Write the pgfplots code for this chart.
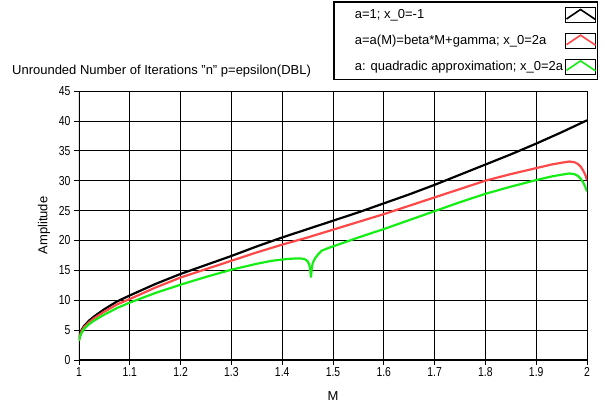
\documentclass[border=0pt]{standalone}
\usepackage{fontspec}
\setmainfont{Liberation Sans}
\newfontfamily\tickfont{Liberation Sans}[FakeStretch=0.8]
\usepackage{pgfplots}
\pgfplotsset{compat=1.18}
\definecolor{lvred}{RGB}{255,72,72}
\definecolor{lvgreen}{RGB}{20,238,20}
\newcommand{\labelfont}{\fontsize{13}{15}\selectfont}
\tikzset{gl/.style={black, line width=0.7pt}}
\begin{document}
\begin{tikzpicture}
\path[use as bounding box] (-79pt,-46pt) rectangle (526pt,360pt);
\begin{axis}[
    at={(0pt,0pt)}, anchor=south west,
    scale only axis,
    width=508pt, height=269pt,
    xmin=1, xmax=2, ymin=0, ymax=45,
    xtick={1,1.1,...,2.01}, ytick={0,5,...,45},
    xtick pos=bottom, ytick pos=left,
    axis line style={black, line width=0.9pt},
    tick align=outside,
    major tick length=5pt,
    tick style={black, line width=0.7pt},
    grid=major,
    grid style={black, line width=0.7pt},
    /pgf/number format/assume math mode=true,
    ticklabel style={font=\tickfont\fontsize{13}{13}\selectfont},
    xticklabel style={yshift=1pt},
    xlabel={M}, ylabel={Amplitude},
    every axis x label/.style={at={(axis description cs:0.5,-0.134)}, anchor=center, font=\labelfont},
    every axis y label/.style={at={(axis description cs:-0.069,0.5)}, rotate=90, anchor=center, font=\labelfont},
    title={Unrounded Number of Iterations "n" p=epsilon(DBL)},
    every axis title/.style={at={(axis description cs:-0.132,1.063)}, anchor=base west, inner sep=0pt, font=\labelfont},
    legend plot pos=right,
    legend cell align=left,
    legend style={at={(axis description cs:1.0217,1.333)}, anchor=north east,
        draw=black, line width=1.4pt, font=\labelfont, row sep=10pt, inner xsep=1pt, inner ysep=5pt},
    legend image code/.code={
        \draw[black, line width=0.7pt, fill=white] (0pt,-7.5pt) rectangle (30pt,7.5pt);
        \draw[#1, line width=1.6pt] (1pt,-4pt) -- (15pt,5.5pt) -- (30pt,-4.5pt);
    },
]
% grid lines
\draw[gl] (axis cs:1.1,0) -- (axis cs:1.1,45);
\draw[gl] (axis cs:1.2,0) -- (axis cs:1.2,45);
\draw[gl] (axis cs:1.3,0) -- (axis cs:1.3,45);
\draw[gl] (axis cs:1.4,0) -- (axis cs:1.4,45);
\draw[gl] (axis cs:1.5,0) -- (axis cs:1.5,45);
\draw[gl] (axis cs:1.6,0) -- (axis cs:1.6,45);
\draw[gl] (axis cs:1.7,0) -- (axis cs:1.7,45);
\draw[gl] (axis cs:1.8,0) -- (axis cs:1.8,45);
\draw[gl] (axis cs:1.9,0) -- (axis cs:1.9,45);
\draw[gl] (axis cs:2,0) -- (axis cs:2,45);
\draw[gl] (axis cs:1,5) -- (axis cs:2,5);
\draw[gl] (axis cs:1,10) -- (axis cs:2,10);
\draw[gl] (axis cs:1,15) -- (axis cs:2,15);
\draw[gl] (axis cs:1,20) -- (axis cs:2,20);
\draw[gl] (axis cs:1,25) -- (axis cs:2,25);
\draw[gl] (axis cs:1,30) -- (axis cs:2,30);
\draw[gl] (axis cs:1,35) -- (axis cs:2,35);
\draw[gl] (axis cs:1,40) -- (axis cs:2,40);
\draw[gl] (axis cs:1,45) -- (axis cs:2,45);
\draw[black, line width=1pt] (axis cs:1,45) -- (axis cs:1,0) -- (axis cs:2,0);
\addplot[black, line width=2.2pt] coordinates {
(1.000,3.4) (1.002,4.3) (1.005,5.0) (1.01,5.7) (1.02,6.6) (1.03,7.3) (1.05,8.5)
(1.075,9.8) (1.1,10.8) (1.15,12.7) (1.2,14.4) (1.25,15.9) (1.3,17.4) (1.35,19.0)
(1.4,20.5) (1.45,21.9) (1.5,23.3) (1.55,24.7) (1.6,26.2) (1.65,27.7) (1.7,29.3)
(1.75,31.0) (1.8,32.7) (1.85,34.4) (1.9,36.2) (1.95,38.1) (2.0,40.1)};
\addlegendentry{\hspace*{18pt}a=1; x\_0=-1}
\addplot[lvred, line width=2.2pt] coordinates {
(1.000,3.3) (1.002,4.1) (1.005,4.8) (1.01,5.5) (1.02,6.3) (1.03,7.0) (1.05,8.1)
(1.075,9.3) (1.1,10.2) (1.15,12.1) (1.2,13.8) (1.25,15.2) (1.3,16.6) (1.35,18.0)
(1.4,19.3) (1.45,20.5) (1.5,21.8) (1.55,23.1) (1.6,24.4) (1.65,25.8) (1.7,27.2)
(1.75,28.6) (1.8,30.0) (1.85,31.1) (1.9,32.1) (1.93,32.7) (1.95,33.0) (1.965,33.2)
(1.975,33.1) (1.982,32.8) (1.988,32.3) (1.993,31.6) (1.997,30.9) (2.0,30.1)};
\addlegendentry{\hspace*{18pt}a=a(M)=beta*M+gamma; x\_0=2a}
\addplot[lvgreen, line width=2.2pt] coordinates {
(1.000,3.2) (1.002,3.9) (1.005,4.5) (1.01,5.2) (1.02,6.0) (1.03,6.6) (1.05,7.6)
(1.075,8.7) (1.1,9.6) (1.15,11.2) (1.2,12.6) (1.25,13.9) (1.3,15.1) (1.35,16.1)
(1.38,16.6) (1.41,16.9) (1.43,17.0) (1.44,16.95) (1.446,16.8) (1.45,16.5)
(1.453,16.0) (1.455,15.3) (1.4567,13.8) (1.458,15.2) (1.46,16.2) (1.4646,17.0)
(1.471,17.7) (1.478,18.3) (1.49,18.7) (1.5,19.0) (1.55,20.5) (1.6,21.9) (1.65,23.4)
(1.7,24.9) (1.75,26.4) (1.8,27.8) (1.85,29.0) (1.9,30.1) (1.93,30.7) (1.95,31.0)
(1.965,31.2) (1.975,31.1) (1.982,30.8) (1.988,30.3) (1.993,29.6) (1.997,28.9) (2.0,28.2)};
\addlegendentry{\hspace*{18pt}a: quadradic approximation; x\_0=2a}
\end{axis}
\end{tikzpicture}
\end{document}
